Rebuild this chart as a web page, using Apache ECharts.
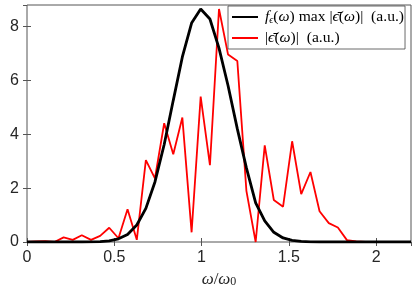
<!DOCTYPE html>
<html>
<head>
<meta charset="utf-8">
<script src="https://cdn.jsdelivr.net/npm/echarts@6/dist/echarts.min.js"></script>
<style>html,body{margin:0;padding:0;background:#fff}#c{width:415px;height:293px}</style>
</head>
<body>
<div id="c"></div>
<script>
var omega = [0, 0.052, 0.105, 0.157, 0.21, 0.262, 0.314, 0.367, 0.419, 0.471, 0.524, 0.576, 0.629, 0.681, 0.733, 0.786, 0.838, 0.89, 0.943, 0.995, 1.048, 1.1, 1.152, 1.205, 1.257, 1.31, 1.362, 1.414, 1.467, 1.519, 1.571, 1.624, 1.676, 1.729, 1.781, 1.833, 1.886, 1.938, 1.99, 2.043, 2.095, 2.148, 2.2];
var envelope = [0, 0, 0, 0, 0, 0, 0, 0.004, 0.014, 0.04, 0.12, 0.28, 0.63, 1.25, 2.23, 3.62, 5.26, 6.87, 8.13, 8.65, 8.28, 7.2, 5.8, 4.2, 2.75, 1.45, 0.78, 0.36, 0.15, 0.06, 0.02, 0.005, 0, 0, 0, 0, 0, 0, 0, 0, 0, 0, 0];
var spectrum = [0, 0.02, 0.03, 0, 0.17, 0.08, 0.25, 0.08, 0.23, 0.53, 0.14, 1.22, 0.08, 3.04, 2.36, 4.41, 3.26, 4.62, 0.36, 5.4, 2.85, 8.65, 6.96, 6.72, 1.9, 0, 3.59, 1.56, 1.31, 3.74, 1.78, 2.6, 1.14, 0.7, 0.54, 0.07, 0.02, 0, 0, 0, 0, 0, 0];
var xTicks = [0, 0.5, 1, 1.5, 2];
var yTicks = [0, 2, 4, 6, 8];
var nameEnv = 'fϵ(ω) max |ϵ̄(ω)| (a.u.)';
var nameSpec = '|ϵ̄(ω)| (a.u.)';

function pairs(xs, ys) { return xs.map(function (x, i) { return [x, ys[i]]; }); }

var serif = "'Liberation Serif','DejaVu Serif',serif";
var rich = {
  i: { fontFamily: serif, fontStyle: 'italic', fontSize: 15.6, color: '#000' },
  n: { fontFamily: serif, fontSize: 15.6, color: '#000' },
  sub: { fontFamily: serif, fontStyle: 'italic', fontSize: 10, color: '#000', verticalAlign: 'bottom' }
};
var axisCol = '#555';
var labelCol = '#262626';
var sans = "'Liberation Sans',Arial,sans-serif";

var chart = echarts.init(document.getElementById('c'), null, { renderer: 'canvas' });
var common = { min: 0, splitLine: { show: false } };
chart.setOption({
  animation: false,
  grid: { left: 27, right: 4, top: 5, bottom: 49.5, show: true, borderColor: axisCol, borderWidth: 1, backgroundColor: 'transparent' },
  legend: {
    orient: 'vertical', left: 228, top: 6,
    backgroundColor: '#fff', borderColor: '#444', borderWidth: 0.8, borderRadius: 0,
    padding: [3, 1, 3, 3], itemWidth: 26, itemHeight: 14, itemGap: 5,
    itemStyle: { opacity: 0 },
    data: [nameEnv, nameSpec],
    formatter: function (name) {
      if (name === nameEnv) {
        return '{i|f}{sub|ϵ}{n|(}{i|ω}{n|) max |}{i|ϵ̄}{n|(}{i|ω}{n|)|  (a.u.)}';
      }
      return '{n||}{i|ϵ̄}{n|(}{i|ω}{n|)|  (a.u.)}';
    },
    textStyle: { rich: rich, padding: [0, 0, 0, 2] }
  },
  xAxis: [
    Object.assign({}, common, {
      type: 'value', max: 2.2, interval: 0.5, position: 'bottom',
      axisLine: { show: false },
      axisTick: { show: true, inside: true, length: 4, lineStyle: { color: axisCol } },
      axisLabel: { color: labelCol, fontSize: 16, fontFamily: sans, margin: 8, showMaxLabel: false,
        formatter: function (v) { return xTicks.indexOf(v) >= 0 ? String(v) : ''; } },
      name: '{i|ω}{n|/}{i|ω}{s|0}', nameLocation: 'middle', nameGap: 29,
      nameTextStyle: { rich: {
        i: { fontFamily: serif, fontStyle: 'italic', fontSize: 17, color: labelCol },
        n: { fontFamily: serif, fontSize: 17, color: labelCol },
        s: { fontFamily: serif, fontSize: 12, color: labelCol, verticalAlign: 'bottom' }
      } }
    }),
    Object.assign({}, common, {
      type: 'value', max: 2.2, interval: 0.5, position: 'top',
      axisLine: { show: false },
      axisTick: { show: true, inside: true, length: 4, lineStyle: { color: axisCol } },
      axisLabel: { show: false }
    })
  ],
  yAxis: [
    Object.assign({}, common, {
      type: 'value', max: 8.8, interval: 2, position: 'left',
      axisLine: { show: false },
      axisTick: { show: true, inside: true, length: 4, lineStyle: { color: axisCol } },
      axisLabel: { color: labelCol, fontSize: 16, fontFamily: sans, margin: 8, showMaxLabel: false,
        formatter: function (v) { return yTicks.indexOf(v) >= 0 ? String(v) : ''; } }
    }),
    Object.assign({}, common, {
      type: 'value', max: 8.8, interval: 2, position: 'right',
      axisLine: { show: false },
      axisTick: { show: true, inside: true, length: 4, lineStyle: { color: axisCol } },
      axisLabel: { show: false }
    })
  ],
  series: [
    { name: nameEnv, type: 'line', data: pairs(omega, envelope), showSymbol: false, symbol: 'none',
      z: 3, lineStyle: { color: '#000', width: 2.8 }, itemStyle: { color: '#000' } },
    { name: nameSpec, type: 'line', data: pairs(omega, spectrum), showSymbol: false, symbol: 'none',
      z: 2, lineStyle: { color: '#ff0000', width: 1.8 }, itemStyle: { color: '#ff0000' } }
  ]
});
</script>
</body>
</html>
